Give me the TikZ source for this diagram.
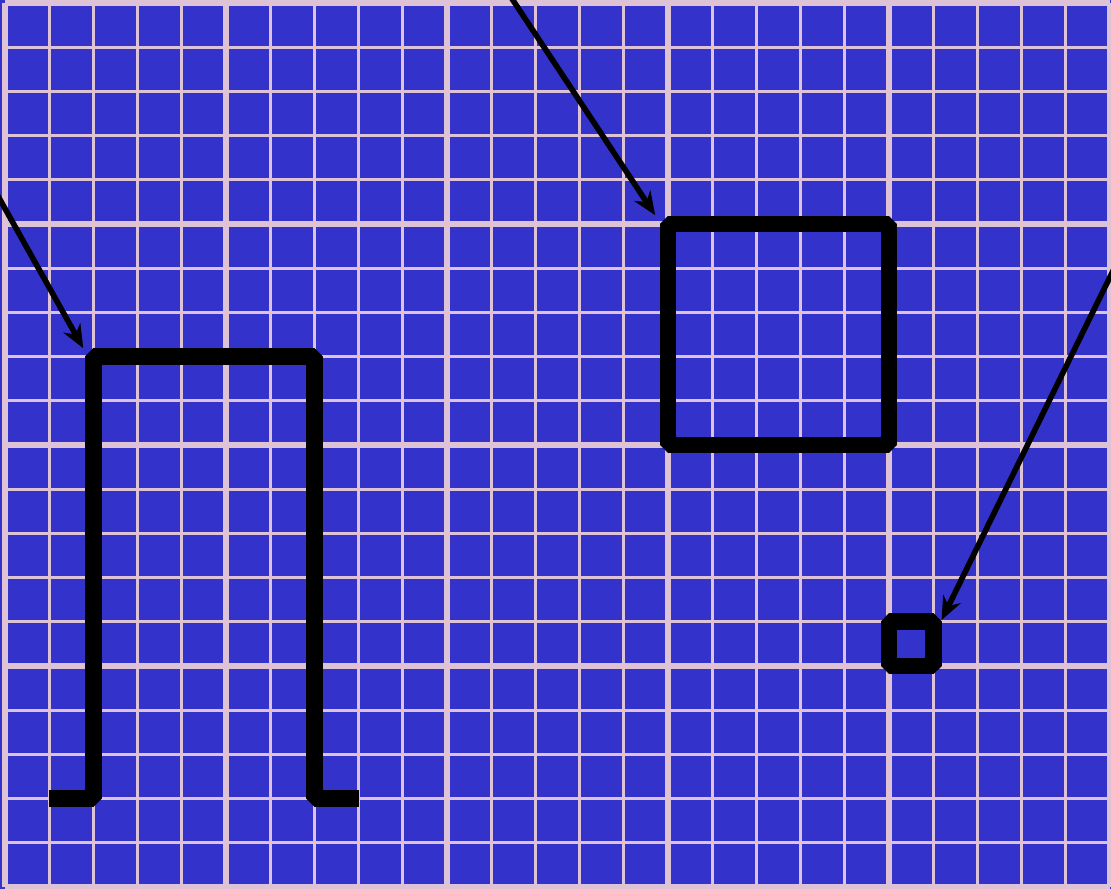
\documentclass[tikz,border=0pt]{standalone}
\usetikzlibrary{arrows.meta}
\definecolor{bgblue}{RGB}{51,51,204}
\definecolor{gridpink}{RGB}{222,194,214}
\tikzset{
  minorgrid/.style={draw=gridpink, line width=1pt},
  majorgrid/.style={draw=gridpink, line width=2pt},
  thickshape/.style={draw=black, line width=5.4pt, line join=bevel, line cap=butt},
  pointer/.style={draw=black, line width=1.8pt, -{Stealth[length=7.5pt,width=6.2pt,inset=2.4pt]}}
}
\begin{document}
\begin{tikzpicture}[x=0.5cm,y=0.5cm]
\useasboundingbox (-0.113,-0.045) rectangle (25.023,20.068);
\fill[bgblue] (-0.113,-0.045) rectangle (25.023,20.068);
\begin{scope}
\clip (-0.113,-0.045) rectangle (25.023,20.068);
\draw[minorgrid] (0,0) grid[step=1] (25,20);
\draw[majorgrid] (0,0) grid[step=5] (25,20);
% shapes
\draw[thickshape] (1,2) -- (2,2) -- (2,12) -- (7,12) -- (7,2) -- (8,2);
\draw[thickshape] (15,10) rectangle (20,15);
\draw[thickshape] (20,5) rectangle (21,6);
% arrow coordinates
\coordinate (s1) at (-0.566,16.36);
\coordinate (t1) at (1.771,12.188);
\coordinate (s2) at (11.19,20.52);
\coordinate (t2) at (14.71,15.20);
\coordinate (s3) at (25.475,14.77);
\coordinate (t3) at (21.19,6.04);
\draw[pointer] (s1) -- (t1);
\draw[pointer] (s2) -- (t2);
\draw[pointer] (s3) -- (t3);
\end{scope}
\end{tikzpicture}
\end{document}
